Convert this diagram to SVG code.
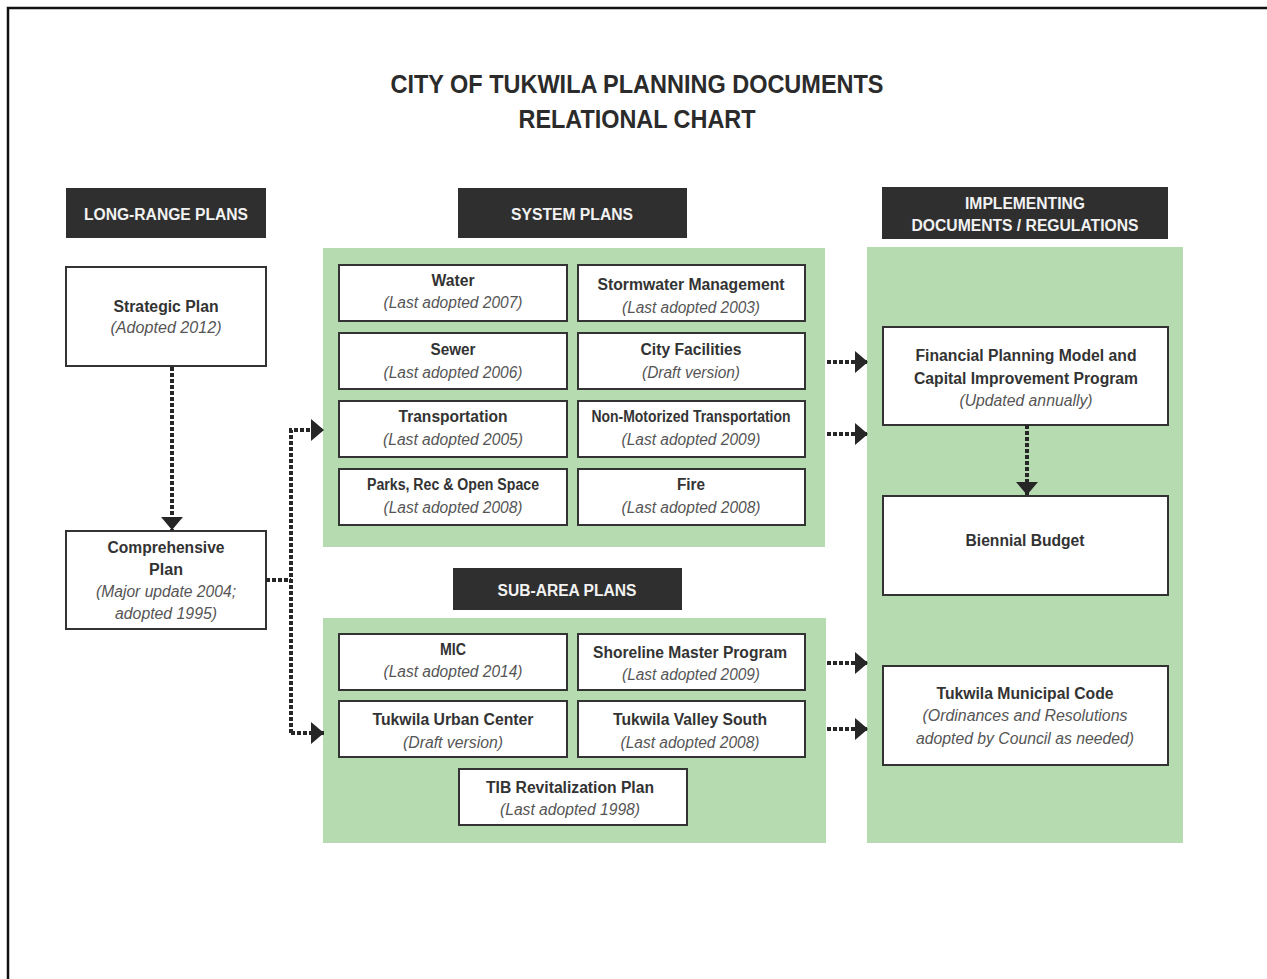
<svg xmlns="http://www.w3.org/2000/svg" width="1267" height="979" viewBox="0 0 1267 979">
<style>
text{font-family:"Liberation Sans",Arial,sans-serif;text-anchor:middle;}
.t{font-size:26px;font-weight:bold;fill:#2b2b2b;}
.h{font-size:16px;font-weight:bold;fill:#f2f2f2;}
.b{font-size:16px;font-weight:bold;fill:#333;}
.i{font-size:16px;font-style:italic;fill:#555;}
.hdr{fill:#2f2f2f;}
.panel{fill:#b6dbb1;}
.box{fill:#fff;stroke:#333;stroke-width:2;}
.con{fill:none;stroke:#262626;stroke-width:4;stroke-dasharray:4 2;}
</style>
<defs>
<marker id="ah" markerUnits="userSpaceOnUse" markerWidth="14" markerHeight="24" refX="13" refY="11" orient="auto">
<path d="M0,0 L13,11 L0,22 z" fill="#262626"/>
</marker>
</defs>
<rect width="1267" height="979" fill="#fff"/>
<path d="M8,979 V8 H1267" fill="none" stroke="#111" stroke-width="2.5"/>

<g id="title">
<text class="t" x="637" y="93" textLength="493" lengthAdjust="spacingAndGlyphs">CITY OF TUKWILA PLANNING DOCUMENTS</text>
<text class="t" x="637" y="128" textLength="237" lengthAdjust="spacingAndGlyphs">RELATIONAL CHART</text>
</g>

<g id="hdr-long">
<rect class="hdr" x="66" y="188" width="200" height="50"/>
<text class="h" x="166" y="220" textLength="164" lengthAdjust="spacingAndGlyphs">LONG-RANGE PLANS</text>
</g>
<g id="hdr-system">
<rect class="hdr" x="458" y="188" width="229" height="50"/>
<text class="h" x="572" y="220" textLength="122" lengthAdjust="spacingAndGlyphs">SYSTEM PLANS</text>
</g>
<g id="hdr-impl">
<rect class="hdr" x="882" y="187" width="286" height="52"/>
<text class="h" x="1025" y="209" textLength="120" lengthAdjust="spacingAndGlyphs">IMPLEMENTING</text>
<text class="h" x="1025" y="231" textLength="227" lengthAdjust="spacingAndGlyphs">DOCUMENTS / REGULATIONS</text>
</g>
<g id="hdr-sub">
<rect class="hdr" x="453" y="568" width="229" height="42"/>
<text class="h" x="567" y="596" textLength="139" lengthAdjust="spacingAndGlyphs">SUB-AREA PLANS</text>
</g>

<g id="panel-system"><rect class="panel" x="323" y="248" width="502" height="299"/></g>
<g id="panel-sub"><rect class="panel" x="323" y="618" width="503" height="225"/></g>
<g id="panel-impl"><rect class="panel" x="867" y="247" width="316" height="596"/></g>

<g id="strategic">
<rect class="box" x="66" y="267" width="200" height="99"/>
<text class="b" x="166" y="312" textLength="105" lengthAdjust="spacingAndGlyphs">Strategic Plan</text>
<text class="i" x="166" y="333" textLength="111" lengthAdjust="spacingAndGlyphs">(Adopted 2012)</text>
</g>
<g id="comprehensive">
<rect class="box" x="66" y="531" width="200" height="98"/>
<text class="b" x="166" y="553" textLength="117" lengthAdjust="spacingAndGlyphs">Comprehensive</text>
<text class="b" x="166" y="575" textLength="34" lengthAdjust="spacingAndGlyphs">Plan</text>
<text class="i" x="166" y="597" textLength="140" lengthAdjust="spacingAndGlyphs">(Major update 2004;</text>
<text class="i" x="166" y="619" textLength="102" lengthAdjust="spacingAndGlyphs">adopted 1995)</text>
</g>

<g id="water">
<rect class="box" x="339" y="265" width="228" height="56"/>
<text class="b" x="453" y="286" textLength="43" lengthAdjust="spacingAndGlyphs">Water</text>
<text class="i" x="453" y="308" textLength="139" lengthAdjust="spacingAndGlyphs">(Last adopted 2007)</text>
</g>
<g id="stormwater">
<rect class="box" x="578" y="265" width="227" height="56"/>
<text class="b" x="691" y="290" textLength="187" lengthAdjust="spacingAndGlyphs">Stormwater Management</text>
<text class="i" x="691" y="313" textLength="138" lengthAdjust="spacingAndGlyphs">(Last adopted 2003)</text>
</g>
<g id="sewer">
<rect class="box" x="339" y="333" width="228" height="56"/>
<text class="b" x="453" y="355" textLength="45" lengthAdjust="spacingAndGlyphs">Sewer</text>
<text class="i" x="453" y="378" textLength="139" lengthAdjust="spacingAndGlyphs">(Last adopted 2006)</text>
</g>
<g id="cityfacilities">
<rect class="box" x="578" y="333" width="227" height="56"/>
<text class="b" x="691" y="355" textLength="101" lengthAdjust="spacingAndGlyphs">City Facilities</text>
<text class="i" x="691" y="378" textLength="98" lengthAdjust="spacingAndGlyphs">(Draft version)</text>
</g>
<g id="transportation">
<rect class="box" x="339" y="401" width="228" height="56"/>
<text class="b" x="453" y="422" textLength="109" lengthAdjust="spacingAndGlyphs">Transportation</text>
<text class="i" x="453" y="445" textLength="140" lengthAdjust="spacingAndGlyphs">(Last adopted 2005)</text>
</g>
<g id="nonmotorized">
<rect class="box" x="578" y="401" width="227" height="56"/>
<text class="b" x="691" y="422" textLength="199" lengthAdjust="spacingAndGlyphs">Non-Motorized Transportation</text>
<text class="i" x="691" y="445" textLength="139" lengthAdjust="spacingAndGlyphs">(Last adopted 2009)</text>
</g>
<g id="parks">
<rect class="box" x="339" y="469" width="228" height="56"/>
<text class="b" x="453" y="490" textLength="172" lengthAdjust="spacingAndGlyphs">Parks, Rec &amp; Open Space</text>
<text class="i" x="453" y="513" textLength="139" lengthAdjust="spacingAndGlyphs">(Last adopted 2008)</text>
</g>
<g id="fire">
<rect class="box" x="578" y="469" width="227" height="56"/>
<text class="b" x="691" y="490" textLength="28" lengthAdjust="spacingAndGlyphs">Fire</text>
<text class="i" x="691" y="513" textLength="139" lengthAdjust="spacingAndGlyphs">(Last adopted 2008)</text>
</g>

<g id="mic">
<rect class="box" x="339" y="634" width="228" height="56"/>
<text class="b" x="453" y="655" textLength="26" lengthAdjust="spacingAndGlyphs">MIC</text>
<text class="i" x="453" y="677" textLength="139" lengthAdjust="spacingAndGlyphs">(Last adopted 2014)</text>
</g>
<g id="shoreline">
<rect class="box" x="578" y="634" width="227" height="56"/>
<text class="b" x="690" y="658" textLength="194" lengthAdjust="spacingAndGlyphs">Shoreline Master Program</text>
<text class="i" x="691" y="680" textLength="138" lengthAdjust="spacingAndGlyphs">(Last adopted 2009)</text>
</g>
<g id="urbancenter">
<rect class="box" x="339" y="701" width="228" height="56"/>
<text class="b" x="453" y="725" textLength="161" lengthAdjust="spacingAndGlyphs">Tukwila Urban Center</text>
<text class="i" x="453" y="748" textLength="100" lengthAdjust="spacingAndGlyphs">(Draft version)</text>
</g>
<g id="valleysouth">
<rect class="box" x="578" y="701" width="227" height="56"/>
<text class="b" x="690" y="725" textLength="154" lengthAdjust="spacingAndGlyphs">Tukwila Valley South</text>
<text class="i" x="690" y="748" textLength="139" lengthAdjust="spacingAndGlyphs">(Last adopted 2008)</text>
</g>
<g id="tib">
<rect class="box" x="459" y="769" width="228" height="56"/>
<text class="b" x="570" y="793" textLength="168" lengthAdjust="spacingAndGlyphs">TIB Revitalization Plan</text>
<text class="i" x="570" y="815" textLength="140" lengthAdjust="spacingAndGlyphs">(Last adopted 1998)</text>
</g>

<g id="financial">
<rect class="box" x="883" y="327" width="285" height="98"/>
<text class="b" x="1026" y="361" textLength="221" lengthAdjust="spacingAndGlyphs">Financial Planning Model and</text>
<text class="b" x="1026" y="384" textLength="224" lengthAdjust="spacingAndGlyphs">Capital Improvement Program</text>
<text class="i" x="1026" y="406" textLength="133" lengthAdjust="spacingAndGlyphs">(Updated annually)</text>
</g>
<g id="budget">
<rect class="box" x="883" y="496" width="285" height="99"/>
<text class="b" x="1025" y="546" textLength="119" lengthAdjust="spacingAndGlyphs">Biennial Budget</text>
</g>
<g id="code">
<rect class="box" x="883" y="666" width="285" height="99"/>
<text class="b" x="1025" y="699" textLength="177" lengthAdjust="spacingAndGlyphs">Tukwila Municipal Code</text>
<text class="i" x="1025" y="721" textLength="205" lengthAdjust="spacingAndGlyphs">(Ordinances and Resolutions</text>
<text class="i" x="1025" y="744" textLength="218" lengthAdjust="spacingAndGlyphs">adopted by Council as needed)</text>
</g>

<g id="connectors">
<path class="con" d="M172,367 V530" marker-end="url(#ah)"/>
<path class="con" d="M266,580 H291"/>
<path class="con" d="M291,733 V430 H324" marker-end="url(#ah)"/>
<path class="con" d="M291,733 H324" marker-end="url(#ah)"/>
<path class="con" d="M827,362 H868" marker-end="url(#ah)"/>
<path class="con" d="M827,434 H868" marker-end="url(#ah)"/>
<path class="con" d="M827,663 H868" marker-end="url(#ah)"/>
<path class="con" d="M827,729 H868" marker-end="url(#ah)"/>
<path class="con" d="M1027,425 V495" marker-end="url(#ah)"/>
</g>
</svg>
